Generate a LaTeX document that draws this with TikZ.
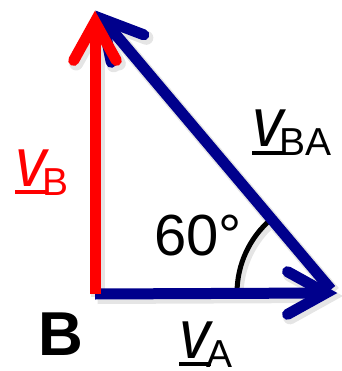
\documentclass[tikz,border=0pt]{standalone}
\usepackage{fontspec}
\setmainfont{Liberation Sans}
\usepackage{graphicx}
\usetikzlibrary{calc}
\definecolor{navy}{RGB}{0,0,140}
\newcommand\vlab[1]{\makebox[0pt][l]{\kern0pt\rule[-8pt]{32pt}{4pt}}\scalebox{1}[1.12]{\itshape v}\kern-3.5pt\raisebox{-9pt}{\fontsize{39}{39}\selectfont #1}}
\newcommand\figpaths[4]{%
  \draw[line width=5pt+#4, #3] (arcstart) arc[start angle=180,end angle=229.8,radius=97];
  \draw[line width=11pt+#4, #2] (O) -- (Hv);
  \draw[arrowhead, line width=11pt+#4, #2] (Ha1) -- (Hv) -- (Ha2);
  \draw[line width=11pt+#4, #2] (Ds) -- (Dv);
  \draw[arrowhead, line width=11pt+#4, #2] (Da1) -- (Dv) -- (Da2);
  \draw[line width=11pt+#4, #1] (O) -- (Tv);
  \draw[arrowhead, line width=11pt+#4, #1] (Ta1) -- (Tv) -- (Ta2);
}
\begin{document}
\begin{tikzpicture}[x=1pt,y=-1pt,
  arrowhead/.style={line cap=round, line join=miter},
  lbl/.style={anchor=base west, inner sep=0pt, outer sep=0pt, font=\fontsize{62}{62}\selectfont}]
\useasboundingbox (0,0) rectangle (341,371);
\coordinate (O) at (95,294);
\coordinate (C) at (334,293);
\coordinate (Tv) at (95,22);
\coordinate (Hv) at (326,293);
\coordinate (Dv) at (102.7,19.2);
\coordinate (Ds) at (331,289.5);
\coordinate (arcstart) at ($(C)+(-97,0)$);
\coordinate (Ta1) at ($(Tv)+(61:44)$);
\coordinate (Ta2) at ($(Tv)+(119:44)$);
\coordinate (Ha1) at ($(Hv)+(151:44)$);
\coordinate (Ha2) at ($(Hv)+(209:44)$);
\coordinate (Da1) at ($(Dv)+(20.8:44)$);
\coordinate (Da2) at ($(Dv)+(78.8:44)$);
\begin{scope}[transform canvas={shift={(2.5,3)}}]
  \figpaths{black!10}{black!10}{black!10}{3pt}
\end{scope}
\figpaths{red}{navy}{black}{0pt}
\node[lbl, font=\fontsize{58}{58}\selectfont] (ang) at (154,255) {60°};
\node[lbl, font=\bfseries\fontsize{62}{62}\selectfont] (bl) at (38.5,355) {B};
\node[lbl, text=red] (vb) at (15,186) {\vlab{B}};
\node[lbl] (vba) at (252,147) {\vlab{BA}};
\node[lbl] (va) at (179,358) {\vlab{A}};
\end{tikzpicture}
\end{document}
